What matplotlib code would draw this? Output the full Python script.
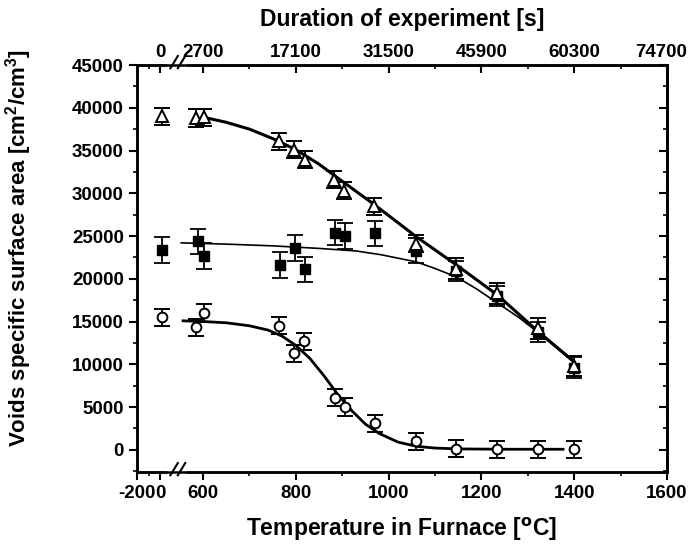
import numpy as np
import matplotlib
matplotlib.use("Agg")
import matplotlib.pyplot as plt
from matplotlib.ticker import FixedLocator, MultipleLocator
from matplotlib.lines import Line2D
from matplotlib.transforms import ScaledTranslation

plt.rcParams['font.family'] = ['Liberation Sans', 'DejaVu Sans']
plt.rcParams['font.weight'] = 'bold'
plt.rcParams['mathtext.default'] = 'regular'

# ---------------- data ----------------
tri_T = [20, 585, 602, 763, 796, 819, 882, 903, 968, 1060, 1146, 1234, 1323, 1400]
tri_V = [39000, 38800, 38900, 36100, 35100, 33900, 31600, 30300, 28500, 24100, 21200, 18300, 14200, 9800]
tri_E = [1000, 1000, 1000, 1000, 1000, 1000, 1000, 1000, 1000, 1000, 1200, 1200, 1200, 1200]

sq_T = [20, 589, 603, 765, 798, 819, 884, 905, 970, 1060, 1146, 1234, 1323, 1400]
sq_V = [23400, 24400, 22700, 21600, 23600, 21100, 25400, 25000, 25300, 23300, 20900, 18000, 13800, 9600]
sq_E = [1500, 1450, 1500, 1500, 1500, 1500, 1500, 1500, 1500, 1500, 1200, 1200, 1200, 1200]

circ_T = [20, 585, 602, 763, 796, 817, 884, 905, 970, 1060, 1146, 1234, 1323, 1400]
circ_V = [15500, 14300, 16000, 14500, 11300, 12700, 6100, 5000, 3100, 1000, 100, 50, 50, 50]
circ_E = [1000] * 14

# fitted curves
tri_fit_T = [600, 650, 700, 750, 800, 850, 900, 970, 1060, 1146, 1234, 1323, 1400]
tri_fit_V = [38900, 38300, 37500, 36400, 35100, 33400, 31400, 28640, 24900, 21620, 18120, 13790, 10290]

sq_fit_T = [553, 650, 750, 850, 930, 985, 1030, 1060, 1100, 1146, 1190, 1234, 1280, 1323, 1360, 1400]
sq_fit_V = [24200, 24050, 23850, 23550, 23250, 22800, 22300, 21970, 21200, 20220, 18800, 17180, 15500, 13680, 12000, 10170]

circ_fit_T = [557, 600, 650, 700, 740, 770, 800, 830, 860, 890, 920, 950, 980, 1020, 1060, 1100, 1150, 1250, 1376]
circ_fit_V = [15080, 15000, 14850, 14500, 14000, 13300, 12200, 10700, 8700, 6500, 4600, 3000, 1900, 900, 400, 200, 100, 60, 60]

# axis ticks
temp_ticks = [-200, 0, 600, 800, 1000, 1200, 1400, 1600]
temp_labels = ['-200', '0', '600', '800', '1000', '1200', '1400', '1600']
temp_minor = [-100, 700, 900, 1100, 1300, 1500]
dur_ticks_T = [0, 600, 800, 1000, 1200, 1400, 1600]
dur_labels = ['0', '2700', '17100', '31500', '45900', '60300', '74700']

# ---------------- broken-axis scale ----------------
A1, B1 = 80.0, 550.0
s1, s2 = 0.115, 0.4635
u1 = s1 * A1
u2 = 19.8
sm = (u2 - u1) / (B1 - A1)

def fwd(T):
    T = np.asarray(T, dtype=float)
    return np.where(T <= A1, s1 * T,
                    np.where(T >= B1, u2 + s2 * (T - B1), u1 + sm * (T - A1)))

def inv(u):
    u = np.asarray(u, dtype=float)
    return np.where(u <= u1, u / s1,
                    np.where(u >= u2, B1 + (u - u2) / s2, A1 + (u - u1) / sm))

fig = plt.figure(figsize=(6.89, 5.49), dpi=100)
ax = fig.add_axes([137/689, 1 - 472/549, (667-137)/689, (472-65)/549])
ax.set_xscale('function', functions=(fwd, inv))
ax.set_xlim(-200, 1600)
ax.set_ylim(-2600, 45000)

ebk = dict(ecolor='black', elinewidth=1.3, capsize=6, capthick=1.3, linestyle='none')

# squares (drawn first, triangles cover them)
ax.errorbar(sq_T, sq_V, yerr=sq_E, marker='s', ms=7, mfc='black', mec='black', zorder=3, **ebk)
ax.plot(sq_fit_T, sq_fit_V, color='black', lw=1.2, zorder=2)
# triangles
ax.plot(tri_fit_T, tri_fit_V, color='black', lw=2.2, zorder=4)
ax.errorbar(tri_T, tri_V, yerr=tri_E, marker='^', ms=8, mfc='white', mec='black', mew=1.4, zorder=5, **ebk)
# circles
ax.plot(circ_fit_T, circ_fit_V, color='black', lw=2.0, zorder=4)
ax.errorbar(circ_T, circ_V, yerr=circ_E, marker='o', ms=7, mfc='white', mec='black', mew=1.4, zorder=5, **ebk)

TL = 13.5
# ticks
ax.xaxis.set_major_locator(FixedLocator(temp_ticks))
ax.xaxis.set_minor_locator(FixedLocator(temp_minor))
ax.set_xticklabels(temp_labels)
ax.yaxis.set_major_locator(MultipleLocator(5000))
ax.yaxis.set_minor_locator(MultipleLocator(2500))
ax.tick_params(axis='both', which='major', labelsize=TL, width=1.5, length=6, direction='out')
ax.tick_params(axis='both', which='minor', width=1.2, length=3, direction='out')
ax.tick_params(axis='x', pad=3)

for sp in ax.spines.values():
    sp.set_linewidth(1.8)

# right axis ticks inward
axr = ax.secondary_yaxis('right')
axr.yaxis.set_major_locator(MultipleLocator(5000))
axr.yaxis.set_minor_locator(MultipleLocator(2500))
axr.tick_params(which='major', direction='in', length=6, width=1.5, labelright=False)
axr.tick_params(which='minor', direction='in', length=3, width=1.2)
axr.spines['right'].set_linewidth(1.8)

# top axis (duration)
axt = ax.twiny()
axt.set_xscale('function', functions=(fwd, inv))
axt.set_xlim(ax.get_xlim())
axt.xaxis.set_major_locator(FixedLocator(dur_ticks_T))
axt.xaxis.set_minor_locator(FixedLocator(temp_minor))
axt.set_xticklabels(dur_labels)
axt.tick_params(which='major', direction='in', length=6, width=1.5, labelsize=TL, pad=3)
axt.tick_params(which='minor', direction='in', length=3, width=1.2)
for sp in axt.spines.values():
    sp.set_linewidth(1.8)

ax.set_xlabel('Temperature in Furnace [$^{\\rm o}$C]', fontsize=16.5, fontweight='bold', labelpad=10)
ax.set_ylabel('Voids specific surface area [cm$^2$/cm$^3$]', fontsize=16, fontweight='bold')
ax.yaxis.set_label_coords(-0.195, 0.55)
axt.set_xlabel('Duration of experiment [s]', fontsize=16.5, fontweight='bold', labelpad=13)

# break marks on top and bottom spines
for yb in (0.0, 1.0):
    ax.add_line(Line2D([0.063, 0.089], [yb, yb], transform=ax.transAxes, color='white',
                       lw=4, clip_on=False, zorder=10))
    for x0 in (0.063, 0.077):
        ax.add_line(Line2D([x0, x0 + 0.014], [yb - 0.008, yb + 0.022], transform=ax.transAxes,
                           color='black', lw=1.5, clip_on=False, zorder=11))

# nudge the last top label slightly left so it fits in the canvas
fig.canvas.draw()
lastlab = axt.xaxis.get_major_ticks()[-1].label2
lastlab.set_transform(lastlab.get_transform() + ScaledTranslation(-4/72, 0, fig.dpi_scale_trans))

fig.savefig('out.png', dpi=100)
